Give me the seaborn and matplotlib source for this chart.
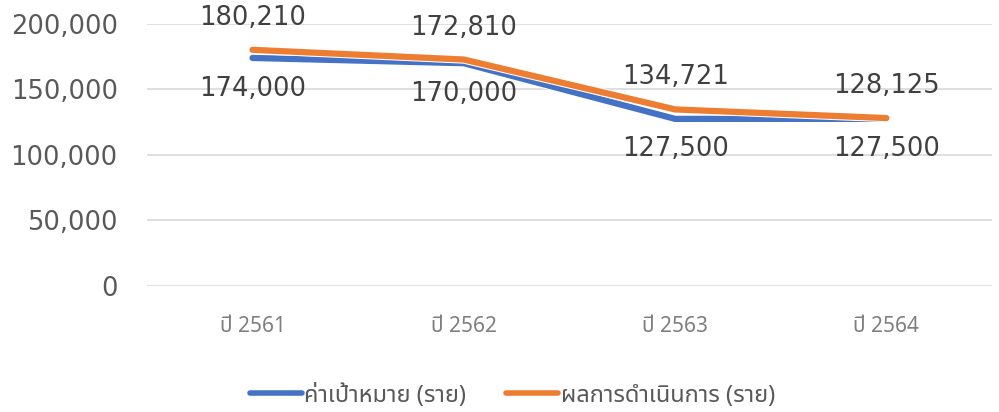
import matplotlib
matplotlib.use("Agg")
import pandas as pd
import seaborn as sns
import matplotlib.pyplot as plt
import matplotlib.patheffects as pe
from matplotlib.lines import Line2D
from matplotlib.ticker import FuncFormatter

# chart data
years = ["ปี 2561", "ปี 2562", "ปี 2563", "ปี 2564"]
target = [174000, 170000, 127500, 127500]
actual = [180210, 172810, 134721, 128125]
series_names = ["ค่าเป้าหมาย (ราย)", "ผลการดำเนินการ (ราย)"]
y_ticks = [0, 50000, 100000, 150000, 200000]

BLUE = "#4472C4"
ORANGE = "#ED7D31"
THAI_FONT = ["Noto Sans Thai", "DejaVu Sans"]

sns.set_theme(style="white")
plt.rcParams["font.family"] = ["DejaVu Sans"]

df = pd.DataFrame({
    "year": years * 2,
    "value": target + actual,
    "series": [series_names[0]] * len(years) + [series_names[1]] * len(years),
})

fig = plt.figure(figsize=(9.99, 4.12), dpi=100)
ax = fig.add_axes([0.147, 0.306, 0.846, 0.636])

sns.lineplot(data=df, x="year", y="value", hue="series", sort=False,
             palette=[BLUE, ORANGE], linewidth=4.5, legend=False, ax=ax)
for line in ax.lines:
    line.set_solid_capstyle("round")
    line.set_solid_joinstyle("round")
    line.set_path_effects([pe.Stroke(linewidth=6, foreground="white"), pe.Normal()])

ax.set_xlim(-0.5, len(years) - 0.5)
ax.set_ylim(0, 200000)
ax.set_yticks(y_ticks)
ax.yaxis.set_major_formatter(FuncFormatter(lambda v, p: f"{int(v):,}"))
ax.grid(axis="y", color="#D9D9D9", linewidth=1.2)
ax.set_axisbelow(True)
sns.despine(ax=ax, left=True, bottom=True)
ax.set_xlabel("")
ax.set_ylabel("")
ax.tick_params(axis="y", length=0, pad=21, labelsize=18.5, labelcolor="#595959")
ax.tick_params(axis="x", length=0, pad=22, labelcolor="#7F7F7F")
for lab in ax.get_xticklabels():
    lab.set_fontfamily(THAI_FONT)
    lab.set_fontsize(15)
    lab.set_fontstretch("condensed")

# data labels
for i, v in enumerate(actual):
    ax.annotate(f"{v:,}", (i, v), xytext=(0, 23), textcoords="offset points",
                ha="center", va="center", fontsize=18.5, color="#404040")
for i, v in enumerate(target):
    ax.annotate(f"{v:,}", (i, v), xytext=(0, -22), textcoords="offset points",
                ha="center", va="center", fontsize=18.5, color="#404040")

handles = [Line2D([], [], color=BLUE, linewidth=4, solid_capstyle="round"),
           Line2D([], [], color=ORANGE, linewidth=4, solid_capstyle="round")]
fig.legend(handles, series_names, loc="center", bbox_to_anchor=(0.513, 0.04),
           ncol=2, frameon=False, handlelength=2.2, handletextpad=0.1,
           columnspacing=1.7, prop={"family": THAI_FONT, "size": 17},
           labelcolor="#595959")

fig.savefig("out.png", dpi=100)
